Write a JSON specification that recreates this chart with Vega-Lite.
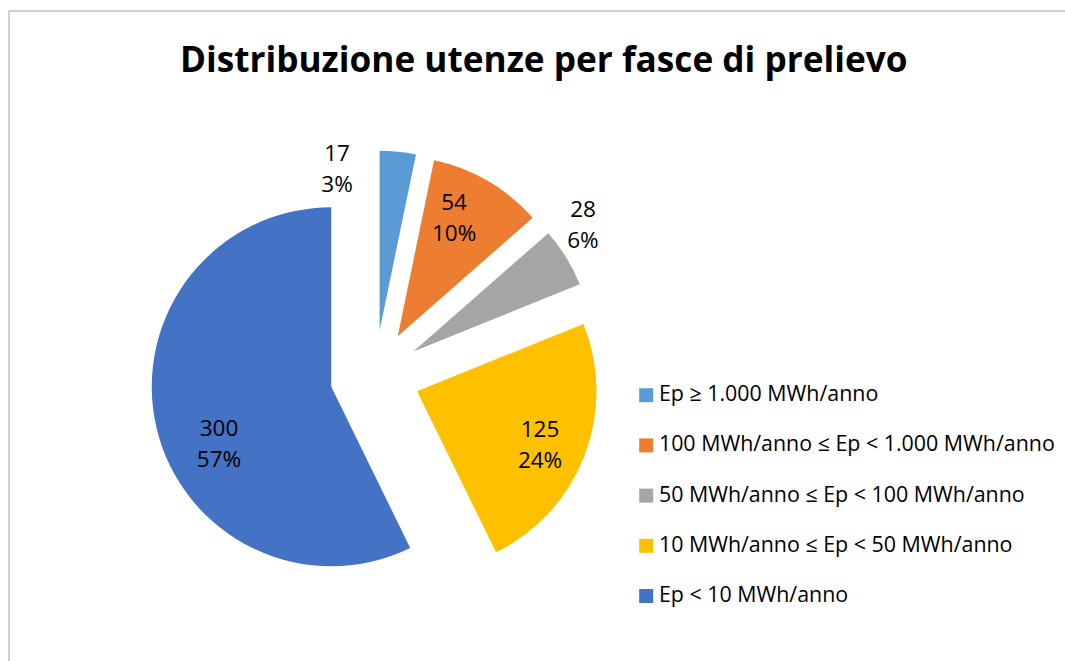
{
  "$schema": "https://vega.github.io/schema/vega-lite/v6.json",
  "autosize": "none",
  "width": 1056.5,
  "height": 650.5,
  "padding": {"left": 8.5, "top": 10.5, "right": 0, "bottom": 0},
  "background": "white",
  "view": {"stroke": "#a0a0a0", "strokeWidth": 1, "strokeDash": [1056.5, 1707, 650.5]},
  "title": {
    "text": "Distribuzione utenze per fasce di prelievo",
    "font": "Open Sans",
    "fontSize": 35.2,
    "fontWeight": "bold",
    "color": "#000000",
    "anchor": "middle",
    "frame": "group",
    "baseline": "alphabetic",
    "offset": -97,
    "dx": 7
  },
  "config": {
    "view": {"stroke": "#a0a0a0", "strokeWidth": 1, "strokeDash": [1056.5, 1707, 650.5]},
    "legend": {
      "orient": "none",
      "legendX": 627,
      "legendY": 374,
      "title": null,
      "symbolType": "square",
      "symbolSize": 196,
      "symbolStrokeWidth": 0,
      "labelFont": "Open Sans",
      "labelFontSize": 21.4,
      "labelColor": "#000000",
      "labelOffset": 2,
      "rowPadding": 27.2,
      "labelLimit": 500,
      "padding": 0
    }
  },
  "data": {
    "values": [
      {"cat": "Ep ≥ 1.000 MWh/anno", "count": 17, "pct": 0.03, "order": 1},
      {"cat": "100 MWh/anno ≤ Ep < 1.000 MWh/anno", "count": 54, "pct": 0.10, "order": 2},
      {"cat": "50 MWh/anno ≤ Ep < 100 MWh/anno", "count": 28, "pct": 0.06, "order": 3},
      {"cat": "10 MWh/anno ≤ Ep < 50 MWh/anno", "count": 125, "pct": 0.24, "order": 4},
      {"cat": "Ep < 10 MWh/anno", "count": 300, "pct": 0.57, "order": 5}
    ]
  },
  "transform": [
    {"stack": "count", "groupby": [], "sort": [{"field": "order"}], "as": ["t0", "t1"]}
  ],
  "encoding": {
    "color": {
      "field": "cat",
      "type": "nominal",
      "scale": {
        "domain": ["Ep ≥ 1.000 MWh/anno", "100 MWh/anno ≤ Ep < 1.000 MWh/anno", "50 MWh/anno ≤ Ep < 100 MWh/anno", "10 MWh/anno ≤ Ep < 50 MWh/anno", "Ep < 10 MWh/anno"],
        "range": ["#5B9BD5", "#ED7D31", "#A5A5A5", "#FFC000", "#4472C4"]
      }
    }
  },
  "layer": [
    {
      "transform": [{"filter": "datum.order == 1"}],
      "mark": {"type": "arc", "radius": 179.5, "xOffset": -157.1, "yOffset": -5.5},
      "encoding": {"theta": {"field": "t0", "type": "quantitative", "stack": null}, "theta2": {"field": "t1"}}
    },
    {
      "transform": [{"filter": "datum.order == 2"}],
      "mark": {"type": "arc", "radius": 179.5, "xOffset": -139, "yOffset": 0.4},
      "encoding": {"theta": {"field": "t0", "type": "quantitative", "stack": null}, "theta2": {"field": "t1"}}
    },
    {
      "transform": [{"filter": "datum.order == 3"}],
      "mark": {"type": "arc", "radius": 179.5, "xOffset": -123.4, "yOffset": 15.7},
      "encoding": {"theta": {"field": "t0", "type": "quantitative", "stack": null}, "theta2": {"field": "t1"}}
    },
    {
      "transform": [{"filter": "datum.order == 4"}],
      "mark": {"type": "arc", "radius": 179.5, "xOffset": -119.7, "yOffset": 55.4},
      "encoding": {"theta": {"field": "t0", "type": "quantitative", "stack": null}, "theta2": {"field": "t1"}}
    },
    {
      "transform": [{"filter": "datum.order == 5"}],
      "mark": {"type": "arc", "radius": 179.5, "xOffset": -205.5, "yOffset": 51},
      "encoding": {"theta": {"field": "t0", "type": "quantitative", "stack": null}, "theta2": {"field": "t1"}}
    },
    {
      "mark": {"type": "text", "radius": 156, "xOffset": -157.1, "yOffset": -5.5, "dx": -58.5, "dy": -21.5, "font": "Open Sans", "fontSize": 22.5, "baseline": "middle"},
      "encoding": {"color": {"value": "#000000"}, "theta": {"field": "count", "type": "quantitative", "stack": true}, "order": {"field": "order"}, "text": {"condition": {"test": "datum.order == 1", "field": "count", "type": "quantitative"}, "value": ""}}
    },
    {
      "mark": {"type": "text", "radius": 156, "xOffset": -157.1, "yOffset": -5.5, "dx": -58.5, "dy": 9.5, "font": "Open Sans", "fontSize": 22.5, "baseline": "middle"},
      "encoding": {"color": {"value": "#000000"}, "theta": {"field": "count", "type": "quantitative", "stack": true}, "order": {"field": "order"}, "text": {"condition": {"test": "datum.order == 1", "field": "pct", "type": "quantitative", "format": ".0%"}, "value": ""}}
    },
    {
      "mark": {"type": "text", "radius": 130.4, "xOffset": -139, "yOffset": 0.4, "dx": -9.3, "dy": -20.9, "font": "Open Sans", "fontSize": 22.5, "baseline": "middle"},
      "encoding": {"color": {"value": "#000000"}, "theta": {"field": "count", "type": "quantitative", "stack": true}, "order": {"field": "order"}, "text": {"condition": {"test": "datum.order == 2", "field": "count", "type": "quantitative"}, "value": ""}}
    },
    {
      "mark": {"type": "text", "radius": 130.4, "xOffset": -139, "yOffset": 0.4, "dx": -9.3, "dy": 10.1, "font": "Open Sans", "fontSize": 22.5, "baseline": "middle"},
      "encoding": {"color": {"value": "#000000"}, "theta": {"field": "count", "type": "quantitative", "stack": true}, "order": {"field": "order"}, "text": {"condition": {"test": "datum.order == 2", "field": "pct", "type": "quantitative", "format": ".0%"}, "value": ""}}
    },
    {
      "mark": {"type": "text", "radius": 210.8, "xOffset": -123.4, "yOffset": 15.7, "dx": -9.9, "dy": -31.4, "font": "Open Sans", "fontSize": 22.5, "baseline": "middle"},
      "encoding": {"color": {"value": "#000000"}, "theta": {"field": "count", "type": "quantitative", "stack": true}, "order": {"field": "order"}, "text": {"condition": {"test": "datum.order == 3", "field": "count", "type": "quantitative"}, "value": ""}}
    },
    {
      "mark": {"type": "text", "radius": 210.8, "xOffset": -123.4, "yOffset": 15.7, "dx": -9.9, "dy": -0.4, "font": "Open Sans", "fontSize": 22.5, "baseline": "middle"},
      "encoding": {"color": {"value": "#000000"}, "theta": {"field": "count", "type": "quantitative", "stack": true}, "order": {"field": "order"}, "text": {"condition": {"test": "datum.order == 3", "field": "pct", "type": "quantitative", "format": ".0%"}, "value": ""}}
    },
    {
      "mark": {"type": "text", "radius": 134.5, "xOffset": -119.7, "yOffset": 55.4, "dx": -2.6, "dy": -8.8, "font": "Open Sans", "fontSize": 22.5, "baseline": "middle"},
      "encoding": {"color": {"value": "#000000"}, "theta": {"field": "count", "type": "quantitative", "stack": true}, "order": {"field": "order"}, "text": {"condition": {"test": "datum.order == 4", "field": "count", "type": "quantitative"}, "value": ""}}
    },
    {
      "mark": {"type": "text", "radius": 134.5, "xOffset": -119.7, "yOffset": 55.4, "dx": -2.6, "dy": 22.2, "font": "Open Sans", "fontSize": 22.5, "baseline": "middle"},
      "encoding": {"color": {"value": "#000000"}, "theta": {"field": "count", "type": "quantitative", "stack": true}, "order": {"field": "order"}, "text": {"condition": {"test": "datum.order == 4", "field": "pct", "type": "quantitative", "format": ".0%"}, "value": ""}}
    },
    {
      "mark": {"type": "text", "radius": 122.9, "xOffset": -205.5, "yOffset": 51, "dx": 7.5, "dy": 14.9, "font": "Open Sans", "fontSize": 22.5, "baseline": "middle"},
      "encoding": {"color": {"value": "#000000"}, "theta": {"field": "count", "type": "quantitative", "stack": true}, "order": {"field": "order"}, "text": {"condition": {"test": "datum.order == 5", "field": "count", "type": "quantitative"}, "value": ""}}
    },
    {
      "mark": {"type": "text", "radius": 122.9, "xOffset": -205.5, "yOffset": 51, "dx": 7.5, "dy": 45.9, "font": "Open Sans", "fontSize": 22.5, "baseline": "middle"},
      "encoding": {"color": {"value": "#000000"}, "theta": {"field": "count", "type": "quantitative", "stack": true}, "order": {"field": "order"}, "text": {"condition": {"test": "datum.order == 5", "field": "pct", "type": "quantitative", "format": ".0%"}, "value": ""}}
    }
  ]
}
